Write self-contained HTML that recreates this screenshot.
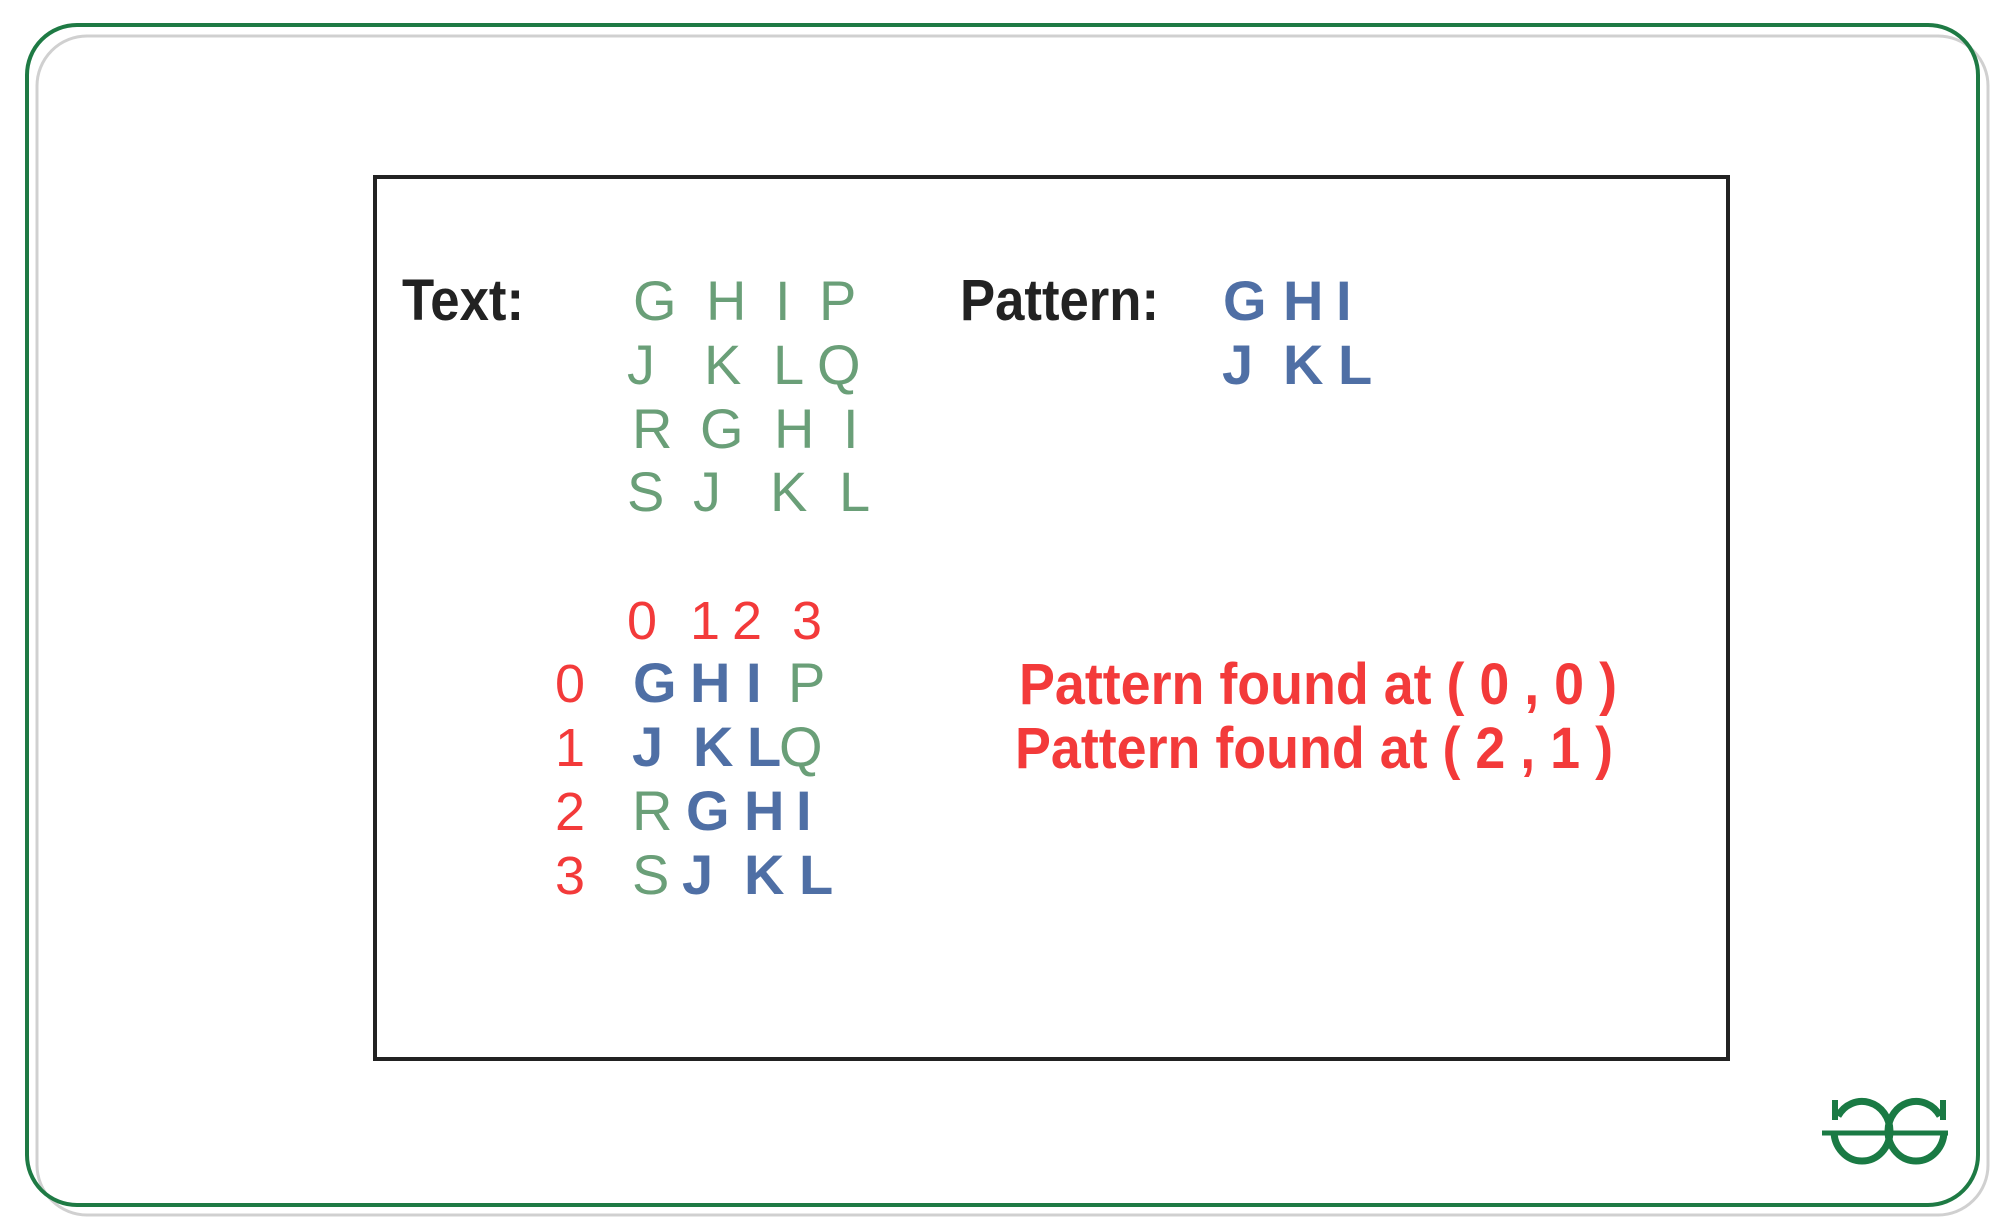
<!DOCTYPE html>
<html><head><meta charset="utf-8"><style>
html,body{margin:0;padding:0;background:#fff;}
svg{display:block}
.g{fill:#6a9f78;font-family:"Liberation Sans",sans-serif;font-size:56px}
.b{fill:#4f6fa5;font-family:"Liberation Sans",sans-serif;font-size:56px;font-weight:bold}
.r{fill:#f33a3a;font-family:"Liberation Sans",sans-serif;font-size:54px}
.k{fill:#222;font-family:"Liberation Sans",sans-serif;font-size:58px;font-weight:bold}
.rb{fill:#f33a3a;font-family:"Liberation Sans",sans-serif;font-size:58px;font-weight:bold}
</style></head><body>
<svg width="2002" height="1231" viewBox="0 0 2002 1231" xmlns="http://www.w3.org/2000/svg">
<rect x="37" y="36" width="1951" height="1179" rx="50" fill="none" stroke="#d0d0d0" stroke-width="3"/>
<rect x="27" y="25" width="1951" height="1180" rx="50" fill="none" stroke="#1e7a44" stroke-width="4"/>
<rect x="375" y="177" width="1353" height="882" fill="none" stroke="#222" stroke-width="4"/>

<text class="k" x="402" y="320" textLength="122" lengthAdjust="spacingAndGlyphs">Text:</text>
<text class="k" x="960" y="320" textLength="199" lengthAdjust="spacingAndGlyphs">Pattern:</text>

<g class="g">
<text x="633" y="320">G</text><text x="706" y="320">H</text><text x="775" y="320">I</text><text x="819" y="320">P</text>
<text x="627" y="384">J</text><text x="704" y="384">K</text><text x="773" y="384">L</text><text x="817" y="384">Q</text>
<text x="632" y="448">R</text><text x="700" y="448">G</text><text x="774" y="448">H</text><text x="843" y="448">I</text>
<text x="627" y="511">S</text><text x="693" y="511">J</text><text x="770" y="511">K</text><text x="839" y="511">L</text>
</g>
<g class="b">
<text x="1223" y="320">G</text><text x="1283" y="320">H</text><text x="1336" y="320">I</text>
<text x="1222" y="384">J</text><text x="1283" y="384">K</text><text x="1338" y="384">L</text>
</g>

<g class="r">
<text x="627" y="639">0</text><text x="690" y="639">1</text><text x="732" y="639">2</text><text x="792" y="639">3</text>
<text x="555" y="702">0</text><text x="555" y="766">1</text><text x="555" y="830">2</text><text x="555" y="894">3</text>
</g>
<g class="b">
<text x="633" y="702">G</text><text x="690" y="702">H</text><text x="746" y="702">I</text>
<text x="632" y="766">J</text><text x="693" y="766">K</text><text x="747" y="766">L</text>
<text x="686" y="830">G</text><text x="744" y="830">H</text><text x="796" y="830">I</text>
<text x="682" y="894">J</text><text x="744" y="894">K</text><text x="799" y="894">L</text>
</g>
<g class="g">
<text x="788" y="702">P</text><text x="779" y="766">Q</text><text x="632" y="830">R</text><text x="632" y="894">S</text>
</g>

<text class="rb" x="1019" y="704" textLength="598" lengthAdjust="spacingAndGlyphs">Pattern found at ( 0 , 0 )</text>
<text class="rb" x="1015" y="768" textLength="598" lengthAdjust="spacingAndGlyphs">Pattern found at ( 2 , 1 )</text>

<g fill="none" stroke="#1a7a44" stroke-width="7">
<path d="M1838 1116 A28 30 0 0 1 1890 1131 A28 30 0 0 1 1862 1161 A28 30 0 0 1 1834 1131"/>
<path d="M1940 1116 A28 30 0 0 0 1888 1131 A28 30 0 0 0 1916 1161 A28 30 0 0 0 1944 1131"/>
<line x1="1822" y1="1133" x2="1948" y2="1133" stroke-width="5"/>
<line x1="1835" y1="1100" x2="1835" y2="1120" stroke-width="6"/>
<line x1="1943" y1="1100" x2="1943" y2="1120" stroke-width="6"/>
</g>
</svg>
</body></html>
